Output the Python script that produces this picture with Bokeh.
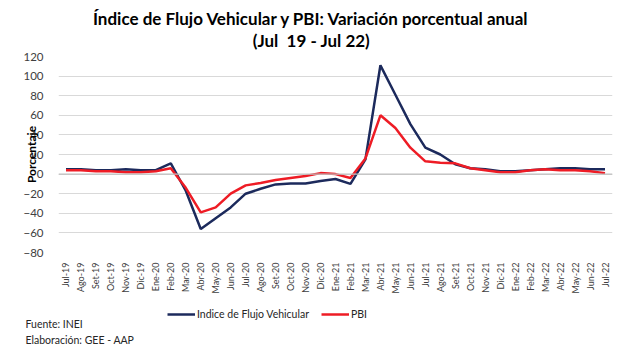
import math
from bokeh.plotting import figure
from bokeh.models import FactorRange, Span, Label, Legend, LegendItem, FixedTicker
from bokeh.embed import file_html
from bokeh.resources import INLINE

months = ["Jul-19", "Ago-19", "Set-19", "Oct-19", "Nov-19", "Dic-19",
          "Ene-20", "Feb-20", "Mar-20", "Abr-20", "May-20", "Jun-20",
          "Jul-20", "Ago-20", "Set-20", "Oct-20", "Nov-20", "Dic-20",
          "Ene-21", "Feb-21", "Mar-21", "Abr-21", "May-21", "Jun-21",
          "Jul-21", "Ago-21", "Set-21", "Oct-21", "Nov-21", "Dic-21",
          "Ene-22", "Feb-22", "Mar-22", "Abr-22", "May-22", "Jun-22", "Jul-22"]

flujo = [5, 5, 4, 4, 5, 4,
         4, 11, -17, -56, -45, -34,
         -20, -15, -10.5, -9.5, -9.5, -7,
         -5, -10, 15, 111, 81, 51,
         27, 20, 10, 6, 5, 3,
         3, 4, 5, 6, 6, 5, 5]

pbi = [4, 4, 3, 3, 2, 2,
       3, 6, -14, -39, -34, -20,
       -11.5, -9, -6, -4, -2, 1,
       0, -4, 16, 60, 47, 27,
       13, 11.5, 11, 6, 4, 2,
       2, 4, 5, 4, 4, 3, 1]

y_ticks = [-80, -60, -40, -20, 0, 20, 40, 60, 80, 100, 120]

series_names = ["Indice de Flujo Vehicular", "PBI"]
title_lines = ["Índice de Flujo Vehicular y PBI: Variación porcentual anual",
               "(Jul\u00a0 19 - Jul 22)"]
footer_lines = ["Fuente: INEI", "Elaboración: GEE - AAP"]

FONT = "Lato"
BLUE = "#1C2A5C"
RED = "#EE1C25"
W = 632


def blank(h):
    f = figure(width=W, height=h, x_range=(0, W), y_range=(h, 0),
               output_backend="svg", toolbar_location=None,
               x_axis_location=None, y_axis_location=None,
               min_border=0, outline_line_color=None)
    f.grid.visible = False
    return f


# --- title strip ---
top = blank(50)
for txt, yy in zip(title_lines, [18, 40]):
    top.add_layout(Label(x=311, y=yy, text=txt, text_font=FONT, text_font_size="17px",
                         text_font_style="bold", text_align="center",
                         text_baseline="middle", text_color="#000000"))

# --- main chart ---
p = figure(width=W, height=246, x_range=FactorRange(*months, range_padding=0),
           y_range=(-80, 120), output_backend="svg", toolbar_location=None,
           min_border_left=58, min_border_right=20, min_border_top=6,
           min_border_bottom=44, outline_line_color=None)

p.xgrid.grid_line_color = None
p.ygrid.grid_line_color = "#D9D9D9"
p.ygrid.ticker = FixedTicker(ticks=y_ticks)
p.yaxis.ticker = FixedTicker(ticks=y_ticks)
p.yaxis.axis_line_color = None
p.yaxis.major_tick_line_color = None
p.yaxis.minor_tick_line_color = None
p.yaxis.major_label_standoff = 9
p.yaxis.major_label_text_font = FONT
p.yaxis.major_label_text_font_size = "11.5px"
p.yaxis.major_label_text_color = "#404040"
p.yaxis.axis_label = "Porcentaje"
p.yaxis.axis_label_standoff = -19
p.yaxis.axis_label_text_font = FONT
p.yaxis.axis_label_text_font_size = "12px"
p.yaxis.axis_label_text_font_style = "bold"
p.yaxis.axis_label_text_color = "#000000"

p.xaxis.axis_line_color = None
p.xaxis.major_tick_line_color = None
p.xaxis.minor_tick_line_color = None
p.xaxis.major_label_orientation = math.pi / 2
p.xaxis.major_label_standoff = 4
p.xaxis.major_label_text_font = FONT
p.xaxis.major_label_text_font_size = "9px"
p.xaxis.major_label_text_color = "#404040"

p.add_layout(Span(location=0, dimension="width", line_color="#BFBFBF", line_width=1.2))

p.line(x=months, y=flujo, line_color=BLUE, line_width=2.5)
p.line(x=months, y=pbi, line_color=RED, line_width=2.5)

# --- legend + footer strip ---
bot = blank(54)
idx = list(range(len(months)))
d1 = bot.line(x=idx, y=flujo, line_color=BLUE, line_width=2.5, visible=False)
d2 = bot.line(x=idx, y=pbi, line_color=RED, line_width=2.5, visible=False)
legend = Legend(items=[LegendItem(label=series_names[0], renderers=[d1]),
                       LegendItem(label=series_names[1], renderers=[d2])],
                location=(167, 29), orientation="horizontal",
                glyph_width=28, glyph_height=14, label_standoff=2, spacing=12,
                padding=0, margin=0, border_line_color=None,
                background_fill_alpha=0,
                label_text_font=FONT, label_text_font_size="10.5px",
                label_text_color="#262626")
bot.add_layout(legend, "center")
for txt, yy in zip(footer_lines, [27, 43]):
    bot.add_layout(Label(x=25, y=yy, text=txt, text_font=FONT, text_font_size="10.5px",
                         text_align="left", text_baseline="middle", text_color="#262626"))

# separate roots stacked in the page (avoids frame alignment of a column layout)
open("out.html", "w").write(file_html([top, p, bot], INLINE))
